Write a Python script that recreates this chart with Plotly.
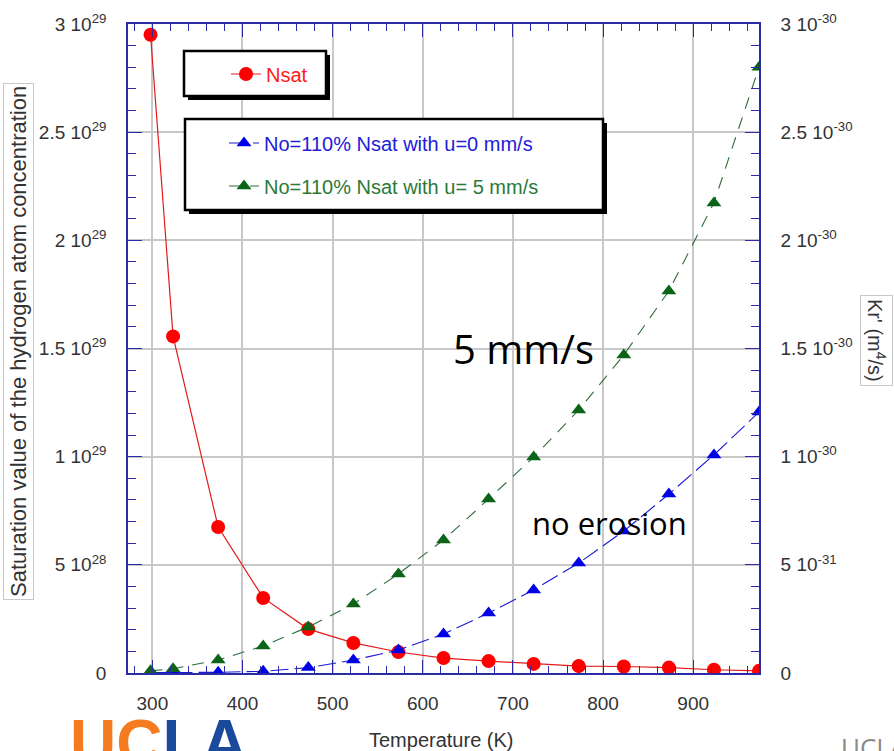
import plotly.graph_objects as go

# ---------------- data ----------------
temperature = [298, 323, 373, 423, 473, 523, 573, 623, 673, 723, 773, 823, 873, 923, 973]
nsat = [2.95e29, 1.556e29, 0.675e29, 0.347e29, 0.203e29, 0.139e29, 0.097e29, 0.069e29,
        0.055e29, 0.042e29, 0.032e29, 0.030e29, 0.025e29, 0.015e29, 0.010e29]
kr_u0 = [0.002e-30, 0.002e-30, 0.003e-30, 0.008e-30, 0.025e-30, 0.060e-30, 0.106e-30, 0.180e-30,
         0.277e-30, 0.384e-30, 0.508e-30, 0.656e-30, 0.827e-30, 1.008e-30, 1.206e-30]
kr_u5 = [0.010e-30, 0.020e-30, 0.060e-30, 0.125e-30, 0.213e-30, 0.319e-30, 0.458e-30, 0.615e-30,
         0.804e-30, 0.998e-30, 1.216e-30, 1.470e-30, 1.766e-30, 2.173e-30, 2.800e-30]

x_ticks = [300, 400, 500, 600, 700, 800, 900]
y_left_vals = [0, 5e28, 1e29, 1.5e29, 2e29, 2.5e29, 3e29]
y_left_text = ["0", "5 10<sup>28</sup>", "1 10<sup>29</sup>", "1.5 10<sup>29</sup>",
               "2 10<sup>29</sup>", "2.5 10<sup>29</sup>", "3 10<sup>29</sup>"]
y_right_vals = [0, 5e-31, 1e-30, 1.5e-30, 2e-30, 2.5e-30, 3e-30]
y_right_text = ["0", "5 10<sup>-31</sup>", "1 10<sup>-30</sup>", "1.5 10<sup>-30</sup>",
                "2 10<sup>-30</sup>", "2.5 10<sup>-30</sup>", "3 10<sup>-30</sup>"]

# ---------------- geometry helpers (pixel -> paper) ----------------
W, H = 894, 751
L, R, T, B = 128, 759, 24, 673


def px(xp):
    return (xp - L) / (R - L)


def py(yp):
    return (B - yp) / (B - T)


AXC = "#2b2ba8"
GRID = "#c8c8c8"
TXT = "#333333"
FONT = "Liberation Sans, Arial, sans-serif"

fig = go.Figure()

fig.add_trace(go.Scatter(
    x=temperature, y=nsat, name="Nsat", mode="lines+markers",
    line=dict(color="#e41a1a", width=1.2),
    marker=dict(color="#ff0000", size=14, symbol="circle"),
    yaxis="y", legend="legend"))

fig.add_trace(go.Scatter(
    x=temperature, y=kr_u0, name="No=110% Nsat with u=0 mm/s", mode="lines+markers",
    line=dict(color="#1a1ad0", width=1.1, dash="18px,6px"),
    marker=dict(color="#0000e6", size=13, symbol="triangle-up"),
    yaxis="y2", legend="legend2"))

fig.add_trace(go.Scatter(
    x=temperature, y=kr_u5, name="No=110% Nsat with u= 5 mm/s", mode="lines+markers",
    line=dict(color="#2e6b3a", width=1.1, dash="12px,9px"),
    marker=dict(color="#0b6418", size=13, symbol="triangle-up"),
    yaxis="y2", legend="legend3"))

# legend boxes with shadows (drawn as shapes, legends sit on top)
shapes = []
for (x0, y0, x1, y1) in [(184, 51, 326, 96), (185, 119, 603, 210)]:
    shapes.append(dict(type="rect", xref="paper", yref="paper",
                       x0=px(x0 + 4), x1=px(x1 + 4), y0=py(y0 + 4), y1=py(y1 + 4),
                       fillcolor="black", line=dict(width=0), layer="above"))
    shapes.append(dict(type="rect", xref="paper", yref="paper",
                       x0=px(x0), x1=px(x1), y0=py(y0), y1=py(y1),
                       fillcolor="white", line=dict(color="black", width=2.5), layer="above"))

legend_common = dict(bgcolor="rgba(0,0,0,0)", borderwidth=0, xanchor="left", yanchor="middle",
                     itemsizing="trace", visible=True)


def ann(text, xp, yp, **kw):
    d = dict(text=text, x=px(xp), y=py(yp), xref="paper", yref="paper", showarrow=False,
             xanchor="center", yanchor="middle")
    d.update(kw)
    return d


annotations = [
    ann("5 mm/s", 523, 348,
        font=dict(family="Open Sans, Noto Sans, sans-serif", size=40, color="black")),
    ann("no erosion", 609, 523,
        font=dict(family="Open Sans, Noto Sans, sans-serif", size=31, color="black")),
    ann("Temperature (K)", 441, 740, font=dict(family=FONT, size=20, color=TXT)),
    ann("Saturation value of the hydrogen atom concentration", 18, 342, textangle=-90,
        font=dict(family=FONT, size=22, color=TXT), bordercolor="#c8c8c8", borderwidth=1,
        borderpad=2, bgcolor="white"),
    ann("Kr' (m<sup>4</sup>/s)", 877, 340, textangle=90,
        font=dict(family=FONT, size=20, color=TXT), bordercolor="#c8c8c8", borderwidth=1,
        borderpad=3, bgcolor="white"),
    ann("<b><span style='color:#f47b20'>UC</span><span style='color:#1b4a9c'>LA</span></b>",
        68, 705, xanchor="left", yanchor="top", height=46, valign="top",
        font=dict(family=FONT, size=64)),
    ann("UCLA", 839, 727, xanchor="left", yanchor="top", height=24, valign="top",
        font=dict(family="Open Sans, sans-serif", size=26, color="#8a8a8a")),
]

fig.update_layout(
    width=W, height=H,
    showlegend=True,
    margin=dict(l=L, r=W - R, t=T, b=H - B, pad=0),
    paper_bgcolor="white", plot_bgcolor="white",
    font=dict(family=FONT, color=TXT, size=15),
    shapes=shapes,
    annotations=annotations,
    legend=dict(x=px(226), y=py(74), font=dict(family=FONT, size=20, color="#ff1a1a"),
                **legend_common),
    legend2=dict(x=px(224), y=py(143), font=dict(family=FONT, size=20, color="#2020d8"),
                 **legend_common),
    legend3=dict(x=px(224), y=py(186), font=dict(family=FONT, size=20, color="#2a7a3a"),
                 **legend_common),
    xaxis=dict(
        range=[273, 973], tickvals=x_ticks, ticktext=[str(v) for v in x_ticks],
        showgrid=True, gridcolor=GRID, gridwidth=1.5, zeroline=False,
        showline=True, linecolor=AXC, linewidth=1.5, mirror="ticks",
        ticks="inside", ticklen=13, tickwidth=1.3, tickcolor=AXC,
        minor=dict(dtick=20, tick0=300, ticks="inside", ticklen=7, tickcolor=AXC, tickwidth=1.1,
                   showgrid=False),
        tickfont=dict(size=19, color=TXT), ticklabelstandoff=12,
    ),
    yaxis=dict(
        range=[0, 3e29], tickvals=y_left_vals, ticktext=y_left_text,
        showgrid=True, gridcolor=GRID, gridwidth=1.5, zeroline=False,
        showline=True, linecolor=AXC, linewidth=1.5,
        ticks="inside", ticklen=14, tickwidth=1.3, tickcolor=AXC,
        minor=dict(dtick=1e28, ticks="inside", ticklen=8, tickcolor=AXC, tickwidth=1.1,
                   showgrid=False),
        tickfont=dict(size=19, color=TXT), ticklabelstandoff=16,
    ),
    yaxis2=dict(
        range=[0, 3e-30], tickvals=y_right_vals, ticktext=y_right_text,
        overlaying="y", side="right", showgrid=False, zeroline=False,
        showline=True, linecolor=AXC, linewidth=1.5,
        ticks="inside", ticklen=14, tickwidth=1.3, tickcolor=AXC,
        minor=dict(dtick=1e-31, ticks="inside", ticklen=8, tickcolor=AXC, tickwidth=1.1,
                   showgrid=False),
        tickfont=dict(size=19, color=TXT), ticklabelstandoff=16,
    ),
)

fig.write_html("out.html", config={"displayModeBar": False},
               post_script="document.body.style.margin='0';")
